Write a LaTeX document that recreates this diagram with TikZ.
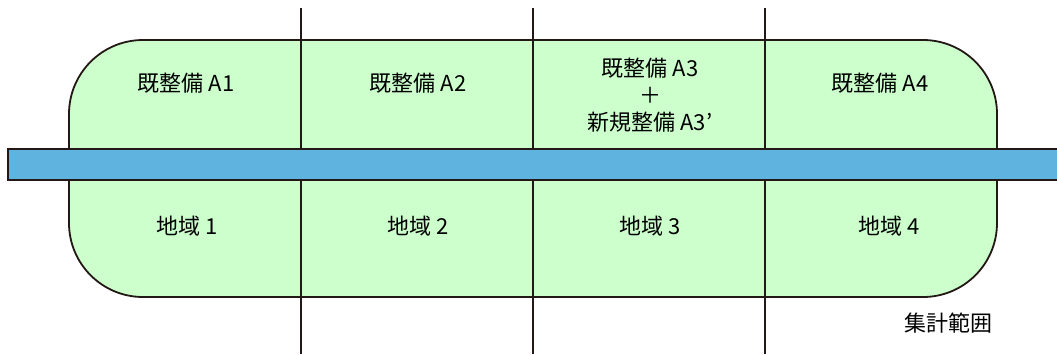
\documentclass[tikz,border=0pt]{standalone}
\usepackage{fontspec}
\setmainfont{Noto Sans CJK JP}
\definecolor{areagreen}{HTML}{CCFFCC}
\definecolor{roadblue}{HTML}{5EB4DF}
\definecolor{linedark}{HTML}{231815}
\begin{document}
\begin{tikzpicture}[x=1pt,y=-1pt,
  edge/.style={draw=linedark,line width=1.8pt},
  lbl/.style={font=\fontsize{22}{27}\selectfont,align=center,inner sep=0pt,text=black}]
\useasboundingbox (0,0) rectangle (1057,354);
% aggregation area
\path[edge,fill=areagreen,rounded corners=74pt] (69,40) rectangle (997,297);
% boundaries
\coordinate (t1) at (301,8); \coordinate (b1) at (301,354);
\coordinate (t2) at (533,8); \coordinate (b2) at (533,354);
\coordinate (t3) at (765,8); \coordinate (b3) at (765,354);
\draw[edge] (t1) -- (b1);
\draw[edge] (t2) -- (b2);
\draw[edge] (t3) -- (b3);
% road
\path[edge,fill=roadblue] (8,149) rectangle (1065,180);
% labels
\node[lbl] (a1) at (186,83) {既整備 A1};
\node[lbl] (a2) at (418,83) {既整備 A2};
\node[lbl] (a3) at (650,95) {既整備 A3\\＋\\新規整備 A3’};
\node[lbl] (a4) at (880,83) {既整備 A4};
\node[lbl] (r1) at (187,226) {地域 1};
\node[lbl] (r2) at (418,226) {地域 2};
\node[lbl] (r3) at (650,226) {地域 3};
\node[lbl] (r4) at (889,226) {地域 4};
\node[lbl] (sum) at (948,323) {集計範囲};
\end{tikzpicture}
\end{document}
